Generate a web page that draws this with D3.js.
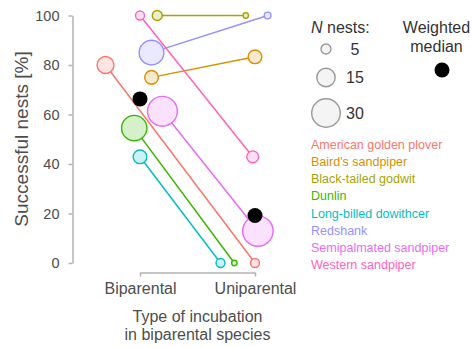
<!DOCTYPE html>
<html>
<head>
<meta charset="utf-8">
<script src="https://cdn.jsdelivr.net/npm/d3@7"></script>
<style>
  html, body { margin: 0; padding: 0; background: #fff; }
  svg { display: block; font-family: "Liberation Sans", Arial, Helvetica, sans-serif; }
</style>
</head>
<body>
<svg id="chart" width="472" height="347"></svg>
<script>
// Nest success of biparental shorebird species by type of incubation
const species = [
  "American golden plover", "Baird's sandpiper", "Black-tailed godwit", "Dunlin",
  "Long-billed dowithcer", "Redshank", "Semipalmated sandpiper", "Western sandpiper"
];
const incubation = ["Biparental", "Uniparental"];
// successful nests [%]
const successBiparental  = [80, 75, 100, 54.5, 42.9, 85, 61.3, 100];
const successUniparental = [0, 83.3, 100, 0, 0, 100, 12.9, 42.9];
// number of nests
const nestsBiparental  = [13, 9, 5, 25, 9, 24, 32, 4];
const nestsUniparental = [4, 9, 1, 1, 4, 2, 33, 7];
// horizontal jitter, as a fraction of the gap between the two incubation types
const jitterBiparental  = [-0.30, 0.10, 0.15, -0.05, 0.00, 0.10, 0.195, 0.00];
const jitterUniparental = [0.00, 0.00, -0.08, -0.18, -0.30, 0.11, 0.025, -0.02];
// weighted median across species
const weightedMedian = [66.3, 19.2];
const yTicks = [0, 20, 40, 60, 80, 100];
const legendNests = [5, 15, 30];

const palette = ["#F8766D", "#D89000", "#A3A500", "#39B600", "#00BFC4", "#9590FF", "#E76BF3", "#FF62BC"];
const textGrey = "#4d4d4d";
const axisGrey = "#b3b3b3";

const svg = d3.select("#chart");

const x = d3.scalePoint().domain(incubation).range([140, 255]);
const gap = x.step();
const y = d3.scaleLinear().domain([0, 100]).range([263, 15.5]);
const r = d3.scalePow().exponent(0.75).domain([0, 30]).range([1.7, 14.3]);
const colour = d3.scaleOrdinal().domain(species).range(palette);
const tint = c => d3.interpolateRgb(c, "#fff")(0.8);

// rows: one per species with both incubation types
const rows = species.map((s, i) => ({
  species: s,
  pts: [
    { type: incubation[0], v: successBiparental[i],  n: nestsBiparental[i],  j: jitterBiparental[i] },
    { type: incubation[1], v: successUniparental[i], n: nestsUniparental[i], j: jitterUniparental[i] }
  ]
}));
const px = p => x(p.type) + p.j * gap;

// y axis
const yAxis = svg.append("g")
  .attr("transform", "translate(72.5,0)")
  .call(d3.axisLeft(y).tickValues(yTicks).tickSize(4).tickSizeOuter(0).tickPadding(9));
yAxis.select(".domain").attr("stroke", axisGrey).attr("stroke-width", 1.5);
yAxis.selectAll(".tick line").attr("stroke", axisGrey).attr("stroke-width", 1.5);
yAxis.selectAll(".tick text").attr("fill", textGrey).style("font-size", "14.5px");

// x axis
const xAxis = svg.append("g")
  .attr("transform", "translate(0,272.5)")
  .call(d3.axisBottom(x).tickSize(4).tickSizeOuter(0).tickPadding(6));
xAxis.select(".domain").attr("stroke", axisGrey).attr("stroke-width", 1.5);
xAxis.selectAll(".tick line").attr("stroke", axisGrey).attr("stroke-width", 1.5);
xAxis.selectAll(".tick text").attr("fill", textGrey).style("font-size", "16px");

// axis titles
svg.append("text")
  .attr("transform", "translate(28,139) rotate(-90)")
  .attr("text-anchor", "middle")
  .attr("fill", textGrey)
  .style("font-size", "19px")
  .text("Successful nests [%]");

const xTitle = svg.append("text")
  .attr("text-anchor", "middle")
  .attr("fill", textGrey)
  .style("font-size", "16px");
xTitle.append("tspan").attr("x", 197.5).attr("y", 322).text("Type of incubation");
xTitle.append("tspan").attr("x", 197.5).attr("y", 340).text("in biparental species");

// connecting lines
svg.append("g").selectAll("line")
  .data(rows)
  .join("line")
  .attr("x1", d => px(d.pts[0])).attr("y1", d => y(d.pts[0].v))
  .attr("x2", d => px(d.pts[1])).attr("y2", d => y(d.pts[1].v))
  .attr("stroke", d => colour(d.species))
  .attr("stroke-width", 1.5);

// nest points
svg.append("g").selectAll("circle")
  .data(rows.flatMap(d => d.pts.map(p => ({ ...p, species: d.species }))))
  .join("circle")
  .attr("cx", px)
  .attr("cy", d => y(d.v))
  .attr("r", d => r(d.n))
  .attr("fill", d => tint(colour(d.species)))
  .attr("stroke", d => colour(d.species))
  .attr("stroke-width", 1.4);

// weighted medians
svg.append("g").selectAll("circle")
  .data(incubation.map((t, i) => ({ type: t, v: weightedMedian[i] })))
  .join("circle")
  .attr("cx", d => x(d.type))
  .attr("cy", d => y(d.v))
  .attr("r", 7.5)
  .attr("fill", "#000");

// size legend
const sizeLegend = svg.append("g");
const nTitle = sizeLegend.append("text")
  .attr("x", 311).attr("y", 33)
  .attr("fill", "#333")
  .style("font-size", "16px");
nTitle.append("tspan").style("font-style", "italic").text("N");
nTitle.append("tspan").text(" nests:");
const sizeRowY = [49, 77.5, 113];
legendNests.forEach((n, i) => {
  sizeLegend.append("circle")
    .attr("cx", 326).attr("cy", sizeRowY[i]).attr("r", r(n))
    .attr("fill", "#f4f4f4").attr("stroke", "#999").attr("stroke-width", 1.4);
  sizeLegend.append("text")
    .attr("x", 355).attr("y", sizeRowY[i]).attr("dy", "0.35em")
    .attr("text-anchor", "middle")
    .attr("fill", "#333")
    .style("font-size", "16px")
    .text(n);
});

// median legend
const medTitle = svg.append("text")
  .attr("text-anchor", "middle")
  .attr("fill", "#333")
  .style("font-size", "16px");
medTitle.append("tspan").attr("x", 436.5).attr("y", 33).text("Weighted");
medTitle.append("tspan").attr("x", 436.5).attr("y", 52).text("median");
svg.append("circle").attr("cx", 442).attr("cy", 70).attr("r", 7.5).attr("fill", "#000");

// species legend
svg.append("g").selectAll("text")
  .data(species)
  .join("text")
  .attr("x", 311)
  .attr("y", (d, i) => 149 + i * 17.15)
  .attr("fill", d => colour(d))
  .style("font-size", "12.5px")
  .text(d => d);
</script>
</body>
</html>
